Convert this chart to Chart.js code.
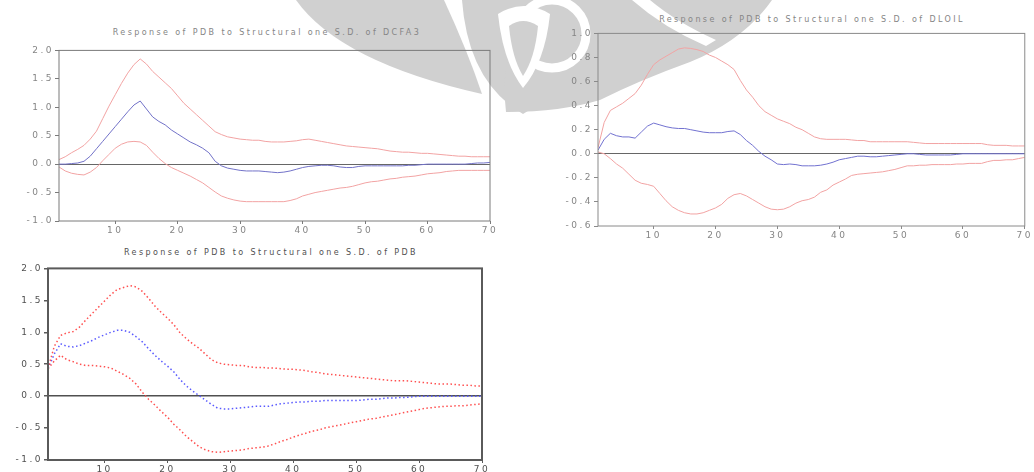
<!DOCTYPE html>
<html>
<head>
<meta charset="utf-8">
<script src="https://cdn.jsdelivr.net/npm/chart.js@4.4.1/dist/chart.umd.min.js"></script>
<style>
body { margin: 0; width: 1034px; height: 472px; overflow: hidden; background: #fff; position: relative; }
canvas { position: absolute; }
#mark { position: absolute; left: 0; top: 0; }
.titulo { position: absolute; transform: translate(-50%, -50%); white-space: nowrap;
	font: 8px 'DejaVu Sans'; letter-spacing: 2.4px; line-height: 10px; }
</style>
</head>
<body>
<svg id="mark" width="1034" height="472">
	<g fill="#d0d0d0">
		<path d="M296,0 Q340,62 482,94 Q468,52 444,0 Z"/>
		<path d="M462,0 Q468,82 523,114 Q578,82 586,0 Z"/>
		<path d="M548,0 L772,0 Q744,40 690,62 Q640,80 600,100 Q560,112 506,112 Q500,60 520,28 Q534,6 548,0 Z"/>
	</g>
	<g fill="#fff">
		<path d="M498,14 Q503,62 523,88 Q545,62 550,14 Q524,-2 498,14 Z"/>
		<path d="M632,0 L650,0 Q676,22 716,40 L706,46 Q664,28 632,0 Z"/>
	</g>
	<circle cx="552" cy="34" r="34" fill="none" stroke="#fff" stroke-width="9"/>
	<path d="M509,26 Q512,58 523,76 Q535,58 538,26 Q523,16 509,26 Z" fill="#d0d0d0"/>
</svg>
<canvas id="g1" width="483" height="195" style="left:19px;top:44px"></canvas>
<canvas id="g2" width="476" height="217" style="left:558px;top:27px"></canvas>
<canvas id="g3" width="486" height="216" style="left:8px;top:262px"></canvas>
<div class="titulo" style="left:267px;top:33px;color:#858585">Response of PDB to Structural one S.D. of DCFA3</div>
<div class="titulo" style="left:812px;top:20px;color:#858585">Response of PDB to Structural one S.D. of DLOIL</div>
<div class="titulo" style="left:271px;top:253px;color:#505050">Response of PDB to Structural one S.D. of PDB</div>
<script>
periods = [1, 2, 3, 4, 5, 6, 7, 8, 9, 10, 11, 12, 13, 14, 15, 16, 17, 18, 19, 20,
	21, 22, 23, 24, 25, 26, 27, 28, 29, 30, 31, 32, 33, 34, 35, 36, 37, 38, 39, 40,
	41, 42, 43, 44, 45, 46, 47, 48, 49, 50, 51, 52, 53, 54, 55, 56, 57, 58, 59, 60,
	61, 62, 63, 64, 65, 66, 67, 68, 69, 70]
xTicks = [10, 20, 30, 40, 50, 60, 70]

// resposta de PDB a DCFA3
dcfaResp = [0.00, 0.00, 0.01, 0.02, 0.05, 0.14, 0.27, 0.40, 0.53, 0.66, 0.79, 0.92, 1.04, 1.11, 0.97, 0.83, 0.75, 0.69, 0.60, 0.53,
	0.46, 0.39, 0.34, 0.28, 0.20, 0.05, -0.03, -0.07, -0.09, -0.11, -0.12, -0.12, -0.12, -0.13, -0.14, -0.15, -0.14, -0.12, -0.09, -0.06,
	-0.04, -0.03, -0.02, -0.02, -0.03, -0.05, -0.06, -0.06, -0.04, -0.03, -0.03, -0.03, -0.03, -0.03, -0.03, -0.03, -0.02, -0.02, -0.01, 0.00,
	0.00, 0.00, 0.00, 0.00, 0.00, 0.00, 0.01, 0.02, 0.02, 0.03]
dcfaUpper = [0.08, 0.13, 0.20, 0.26, 0.33, 0.44, 0.58, 0.80, 1.02, 1.22, 1.42, 1.60, 1.75, 1.85, 1.76, 1.63, 1.53, 1.43, 1.33, 1.20,
	1.07, 0.97, 0.87, 0.77, 0.67, 0.57, 0.52, 0.48, 0.46, 0.44, 0.43, 0.42, 0.42, 0.40, 0.39, 0.39, 0.39, 0.40, 0.41, 0.43,
	0.44, 0.42, 0.40, 0.38, 0.36, 0.34, 0.32, 0.31, 0.30, 0.29, 0.28, 0.27, 0.25, 0.23, 0.22, 0.21, 0.21, 0.20, 0.19, 0.19,
	0.18, 0.17, 0.16, 0.15, 0.14, 0.14, 0.13, 0.13, 0.13, 0.13]
dcfaLower = [-0.05, -0.12, -0.16, -0.18, -0.19, -0.14, -0.06, 0.06, 0.17, 0.28, 0.35, 0.39, 0.40, 0.39, 0.33, 0.21, 0.10, 0.01, -0.06, -0.11,
	-0.16, -0.21, -0.27, -0.33, -0.41, -0.49, -0.56, -0.60, -0.63, -0.65, -0.66, -0.66, -0.66, -0.66, -0.66, -0.66, -0.66, -0.64, -0.61, -0.56,
	-0.53, -0.50, -0.48, -0.46, -0.44, -0.42, -0.41, -0.39, -0.36, -0.33, -0.31, -0.30, -0.28, -0.26, -0.25, -0.23, -0.22, -0.21, -0.19, -0.17,
	-0.16, -0.15, -0.13, -0.12, -0.11, -0.11, -0.11, -0.11, -0.11, -0.11]

// resposta de PDB a DLOIL
oilResp = [0.03, 0.12, 0.17, 0.15, 0.14, 0.14, 0.13, 0.18, 0.23, 0.255, 0.24, 0.225, 0.215, 0.21, 0.21, 0.20, 0.19, 0.18, 0.175, 0.175,
	0.175, 0.185, 0.19, 0.16, 0.11, 0.07, 0.02, -0.02, -0.05, -0.085, -0.09, -0.085, -0.09, -0.10, -0.10, -0.10, -0.095, -0.085, -0.07, -0.05,
	-0.04, -0.03, -0.02, -0.02, -0.025, -0.025, -0.02, -0.015, -0.01, -0.005, 0.00, 0.00, -0.005, -0.01, -0.01, -0.01, -0.01, -0.01, -0.005, 0.00,
	0.00, 0.00, 0.00, 0.00, 0.00, 0.00, 0.00, 0.00, 0.00, 0.00]
oilUpper = [0.05, 0.26, 0.36, 0.39, 0.42, 0.46, 0.50, 0.57, 0.66, 0.74, 0.78, 0.81, 0.84, 0.87, 0.88, 0.875, 0.865, 0.85, 0.82, 0.80,
	0.77, 0.74, 0.70, 0.61, 0.53, 0.47, 0.40, 0.35, 0.32, 0.29, 0.27, 0.25, 0.22, 0.20, 0.17, 0.14, 0.125, 0.12, 0.12, 0.12,
	0.12, 0.115, 0.11, 0.11, 0.10, 0.10, 0.10, 0.10, 0.10, 0.10, 0.10, 0.095, 0.09, 0.085, 0.085, 0.085, 0.085, 0.085, 0.085, 0.085,
	0.085, 0.085, 0.085, 0.075, 0.07, 0.07, 0.07, 0.065, 0.065, 0.065]
oilLower = [0.015, 0.00, -0.04, -0.085, -0.12, -0.17, -0.22, -0.245, -0.255, -0.27, -0.33, -0.39, -0.44, -0.47, -0.49, -0.50, -0.50, -0.49, -0.47, -0.45,
	-0.42, -0.37, -0.34, -0.33, -0.35, -0.38, -0.41, -0.44, -0.46, -0.465, -0.46, -0.44, -0.41, -0.39, -0.38, -0.36, -0.32, -0.30, -0.26, -0.235,
	-0.21, -0.18, -0.17, -0.165, -0.16, -0.155, -0.15, -0.14, -0.13, -0.115, -0.10, -0.10, -0.095, -0.095, -0.09, -0.09, -0.09, -0.09, -0.085, -0.085,
	-0.08, -0.08, -0.08, -0.065, -0.055, -0.055, -0.05, -0.05, -0.04, -0.03]

// resposta de PDB a PDB
pdbResp = [0.43, 0.66, 0.82, 0.78, 0.77, 0.79, 0.83, 0.87, 0.92, 0.96, 1.00, 1.03, 1.03, 1.00, 0.93, 0.85, 0.74, 0.64, 0.55, 0.47,
	0.38, 0.26, 0.16, 0.08, 0.01, -0.06, -0.13, -0.19, -0.20, -0.20, -0.19, -0.18, -0.17, -0.16, -0.16, -0.16, -0.14, -0.12, -0.11, -0.10,
	-0.09, -0.09, -0.08, -0.08, -0.07, -0.07, -0.07, -0.07, -0.07, -0.07, -0.06, -0.05, -0.05, -0.04, -0.03, -0.03, -0.02, -0.02, -0.01, 0.00,
	0.00, 0.00, 0.00, 0.00, 0.00, 0.00, 0.00, 0.00, 0.00, 0.00]
pdbUpper = [0.43, 0.78, 0.95, 0.99, 1.01, 1.08, 1.19, 1.29, 1.39, 1.49, 1.59, 1.67, 1.70, 1.73, 1.71, 1.64, 1.53, 1.41, 1.31, 1.22,
	1.12, 0.99, 0.90, 0.82, 0.75, 0.66, 0.57, 0.52, 0.50, 0.49, 0.48, 0.48, 0.46, 0.45, 0.45, 0.44, 0.44, 0.43, 0.42, 0.42,
	0.41, 0.40, 0.38, 0.37, 0.35, 0.34, 0.33, 0.32, 0.31, 0.30, 0.29, 0.28, 0.27, 0.26, 0.25, 0.24, 0.24, 0.24, 0.23, 0.22,
	0.21, 0.20, 0.19, 0.19, 0.19, 0.18, 0.17, 0.17, 0.16, 0.16]
pdbLower = [0.43, 0.55, 0.64, 0.57, 0.54, 0.50, 0.48, 0.48, 0.47, 0.46, 0.44, 0.39, 0.34, 0.28, 0.19, 0.06, -0.05, -0.14, -0.24, -0.33,
	-0.44, -0.53, -0.63, -0.71, -0.79, -0.84, -0.87, -0.88, -0.87, -0.86, -0.85, -0.84, -0.82, -0.81, -0.80, -0.78, -0.75, -0.71, -0.68, -0.64,
	-0.61, -0.58, -0.55, -0.53, -0.50, -0.48, -0.46, -0.44, -0.42, -0.40, -0.38, -0.36, -0.35, -0.33, -0.31, -0.29, -0.27, -0.25, -0.23, -0.21,
	-0.19, -0.18, -0.17, -0.16, -0.16, -0.15, -0.15, -0.14, -0.13, -0.12]

// numeros esticados como no original
var espacamento = {
	id: 'espacamento',
	beforeUpdate: function (chart) { chart.ctx.letterSpacing = '2.5px' },
	beforeDraw: function (chart) { chart.ctx.letterSpacing = '2.5px' }
}

// moldura completa do grafico
var moldura = {
	id: 'moldura',
	afterDraw: function (chart, args, opts) {
		var a = chart.chartArea
		var ctx = chart.ctx
		ctx.save()
		ctx.strokeStyle = opts.color
		ctx.lineWidth = opts.width
		ctx.strokeRect(a.left, a.top, a.right - a.left, a.bottom - a.top)
		ctx.restore()
	}
}

function geraPainel(id, superior, inferior, resposta, cfg) {
	var ctx = document.getElementById(id).getContext('2d')
	return new Chart(ctx, {
		type: 'line',
		data: {
			labels: periods,
			datasets: [{
				data: superior,
				borderColor: cfg.red,
				borderWidth: cfg.lw,
				borderDash: cfg.dash,
				pointRadius: 0,
				fill: false
			}, {
				data: inferior,
				borderColor: cfg.red,
				borderWidth: cfg.lw,
				borderDash: cfg.dash,
				pointRadius: 0,
				fill: false
			}, {
				data: resposta,
				borderColor: cfg.blue,
				borderWidth: cfg.lw,
				borderDash: cfg.dash,
				pointRadius: 0,
				fill: false
			}]
		},
		options: {
			responsive: false,
			animation: false,
			layout: { padding: { left: 0, right: cfg.padRight, top: 6, bottom: 0 } },
			plugins: {
				legend: { display: false },
				tooltip: { enabled: false },
				title: { display: false },
				moldura: { color: cfg.box, width: cfg.boxWidth }
			},
			scales: {
				x: {
					type: 'linear',
					min: 1,
					max: 70,
					afterBuildTicks: function (scale) {
						scale.ticks = xTicks.map(function (v) { return { value: v } })
					},
					afterFit: function (scale) { scale.height = 18 },
					border: { display: false },
					grid: { drawOnChartArea: false, tickLength: 3, color: cfg.box },
					ticks: {
						color: cfg.text,
						padding: 1,
						maxRotation: 0,
						font: { family: 'DejaVu Sans', size: 9 }
					}
				},
				y: {
					min: cfg.ymin,
					max: cfg.ymax,
					afterBuildTicks: function (scale) {
						scale.ticks = cfg.yTicks.map(function (v) { return { value: v } })
					},
					afterFit: function (scale) { scale.width = 40 },
					border: { display: false },
					grid: {
						color: function (c) { return c.tick && Math.abs(c.tick.value) < 1e-9 ? cfg.zero : 'rgba(0,0,0,0)' },
						lineWidth: cfg.zeroWidth,
						tickColor: cfg.box,
						tickLength: 4
					},
					ticks: {
						color: cfg.text,
						padding: 1,
						font: { family: 'DejaVu Sans', size: 9 },
						callback: function (v) { return v.toFixed(1) }
					}
				}
			}
		},
		plugins: [espacamento, moldura]
	})
}

geraPainel('g1', dcfaUpper, dcfaLower, dcfaResp, {
	red: '#f2a3a3', blue: '#7272c8', lw: 1, dash: [],
	text: '#858585', box: '#7a7a7a', boxWidth: 1, zero: '#666', zeroWidth: 1,
	ymin: -1, ymax: 2, yTicks: [-1.0, -0.5, 0.0, 0.5, 1.0, 1.5, 2.0], padRight: 12
})

geraPainel('g2', oilUpper, oilLower, oilResp, {
	red: '#f2a3a3', blue: '#7272d0', lw: 1, dash: [],
	text: '#858585', box: '#8a8a8a', boxWidth: 1, zero: '#666', zeroWidth: 1,
	ymin: -0.6, ymax: 1.0, yTicks: [-0.6, -0.4, -0.2, 0.0, 0.2, 0.4, 0.6, 0.8, 1.0], padRight: 5
})

geraPainel('g3', pdbUpper, pdbLower, pdbResp, {
	red: '#ff5050', blue: '#5a5aff', lw: 1.5, dash: [1.5, 2.5],
	text: '#505050', box: '#5a5a5a', boxWidth: 2, zero: '#505050', zeroWidth: 1.5,
	ymin: -1, ymax: 2, yTicks: [-1.0, -0.5, 0.0, 0.5, 1.0, 1.5, 2.0], padRight: 12
})
</script>
</body>
</html>
